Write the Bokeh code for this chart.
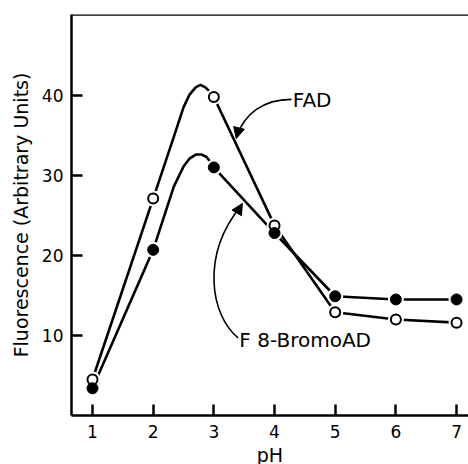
from bokeh.plotting import figure
from bokeh.models import Label, Span, Arrow, NormalHead, FixedTicker
from bokeh.embed import file_html
from bokeh.resources import INLINE

# ---- data ----
ph = [1, 2, 3, 4, 5, 6, 7]
fad = [4.5, 27.1, 39.8, 23.75, 12.9, 12.0, 11.6]
bromo = [3.4, 20.7, 31.0, 22.8, 14.9, 14.5, 14.5]

# hand-drawn smooth curves
fad_curve_ph = [1, 2, 2.34, 2.5, 2.6, 2.7, 2.78, 2.86, 2.93, 3, 4, 5, 6, 7]
fad_curve = [4.5, 27.1, 34.8, 38.5, 40.1, 41.0, 41.3, 41.0, 40.5, 39.8, 23.75, 12.9, 12.0, 11.6]
bromo_curve_ph = [1, 2, 2.34, 2.5, 2.6, 2.7, 2.8, 2.88, 2.95, 3, 4, 5, 6, 7]
bromo_curve = [3.4, 20.7, 28.6, 31.1, 32.1, 32.6, 32.6, 32.3, 31.6, 31.0, 22.8, 14.9, 14.5, 14.5]

x_ticks = [1, 2, 3, 4, 5, 6, 7]
y_ticks = [10, 20, 30, 40]
x_title = "pH"
y_title = "Fluorescence (Arbitrary Units)"
fad_name = "FAD"
bromo_name = "F 8-BromoAD"

FONT = "DejaVu Sans"

p = figure(frame_width=397, frame_height=401, x_range=(0.654, 7.197), y_range=(0, 50.1),
           output_backend="svg", toolbar_location=None,
           min_border_left=71, min_border_top=14, min_border_bottom=49, min_border_right=0)
p.outline_line_color = None
p.xgrid.visible = False
p.ygrid.visible = False
p.background_fill_color = "white"
p.border_fill_color = "white"

for ax in (p.xaxis[0], p.yaxis[0]):
    ax.axis_line_width = 2.5
    ax.axis_line_color = "black"
    ax.major_tick_line_width = 2.5
    ax.major_tick_line_color = "black"
    ax.major_tick_in = 11
    ax.major_tick_out = 0
    ax.minor_tick_line_color = None
    ax.major_label_text_font = FONT
    ax.major_label_text_font_size = "17px"
    ax.major_label_text_color = "black"
    ax.axis_label_text_font = FONT
    ax.axis_label_text_font_style = "normal"
    ax.axis_label_text_color = "black"

p.xaxis.ticker = FixedTicker(ticks=x_ticks)
p.yaxis.ticker = FixedTicker(ticks=y_ticks)
p.xaxis.major_label_standoff = 9
p.yaxis.major_label_standoff = 8
p.xaxis.axis_label = x_title
p.yaxis.axis_label = y_title
p.xaxis.axis_label_text_font_size = "19px"
p.yaxis.axis_label_text_font_size = "19px"
p.xaxis.axis_label_standoff = 3
p.yaxis.axis_label_standoff = 7

p.add_layout(Span(location=50.1, dimension="width", line_color="black", line_width=2.5))

# curves
p.line(fad_curve_ph, fad_curve, line_color="black", line_width=2.6)
p.line(bromo_curve_ph, bromo_curve, line_color="black", line_width=2.6)

# white halos producing gaps around markers
p.scatter(ph, fad, size=16, fill_color="white", line_color=None)
p.scatter(ph, bromo, size=16, fill_color="white", line_color=None)

# markers
p.scatter(ph, fad, size=10, fill_color="white", line_color="black", line_width=2)
p.scatter(ph, bromo, size=11, fill_color="black", line_color="black", line_width=1)

# annotations
p.add_layout(Label(x=4.30, y=39.4, text=fad_name, text_font=FONT, text_font_size="20px",
                   text_baseline="middle", text_color="black"))
p.add_layout(Label(x=3.42, y=9.4, text=bromo_name, text_font=FONT, text_font_size="20px",
                   text_baseline="middle", text_color="black"))

# FAD pointer
p.bezier(x0=[4.28], y0=[39.5], x1=[3.38], y1=[34.9],
         cx0=[3.80], cy0=[39.5], cx1=[3.50], cy1=[37.6],
         line_color="black", line_width=1.6)
p.add_layout(Arrow(end=NormalHead(size=11, fill_color="black", line_color="black"),
                   x_start=3.41, y_start=35.8, x_end=3.37, y_end=34.6,
                   line_color="black", line_width=1.6))

# 8-BromoAD pointer
p.bezier(x0=[3.40], y0=[9.7], x1=[3.45], y1=[26.2],
         cx0=[2.945], cy0=[12.5], cx1=[2.78], cy1=[20.0],
         line_color="black", line_width=1.6)
p.add_layout(Arrow(end=NormalHead(size=11, fill_color="black", line_color="black"),
                   x_start=3.40, y_start=25.6, x_end=3.47, y_end=26.5,
                   line_color="black", line_width=1.6))

open("out.html", "w").write(file_html(p, INLINE))
